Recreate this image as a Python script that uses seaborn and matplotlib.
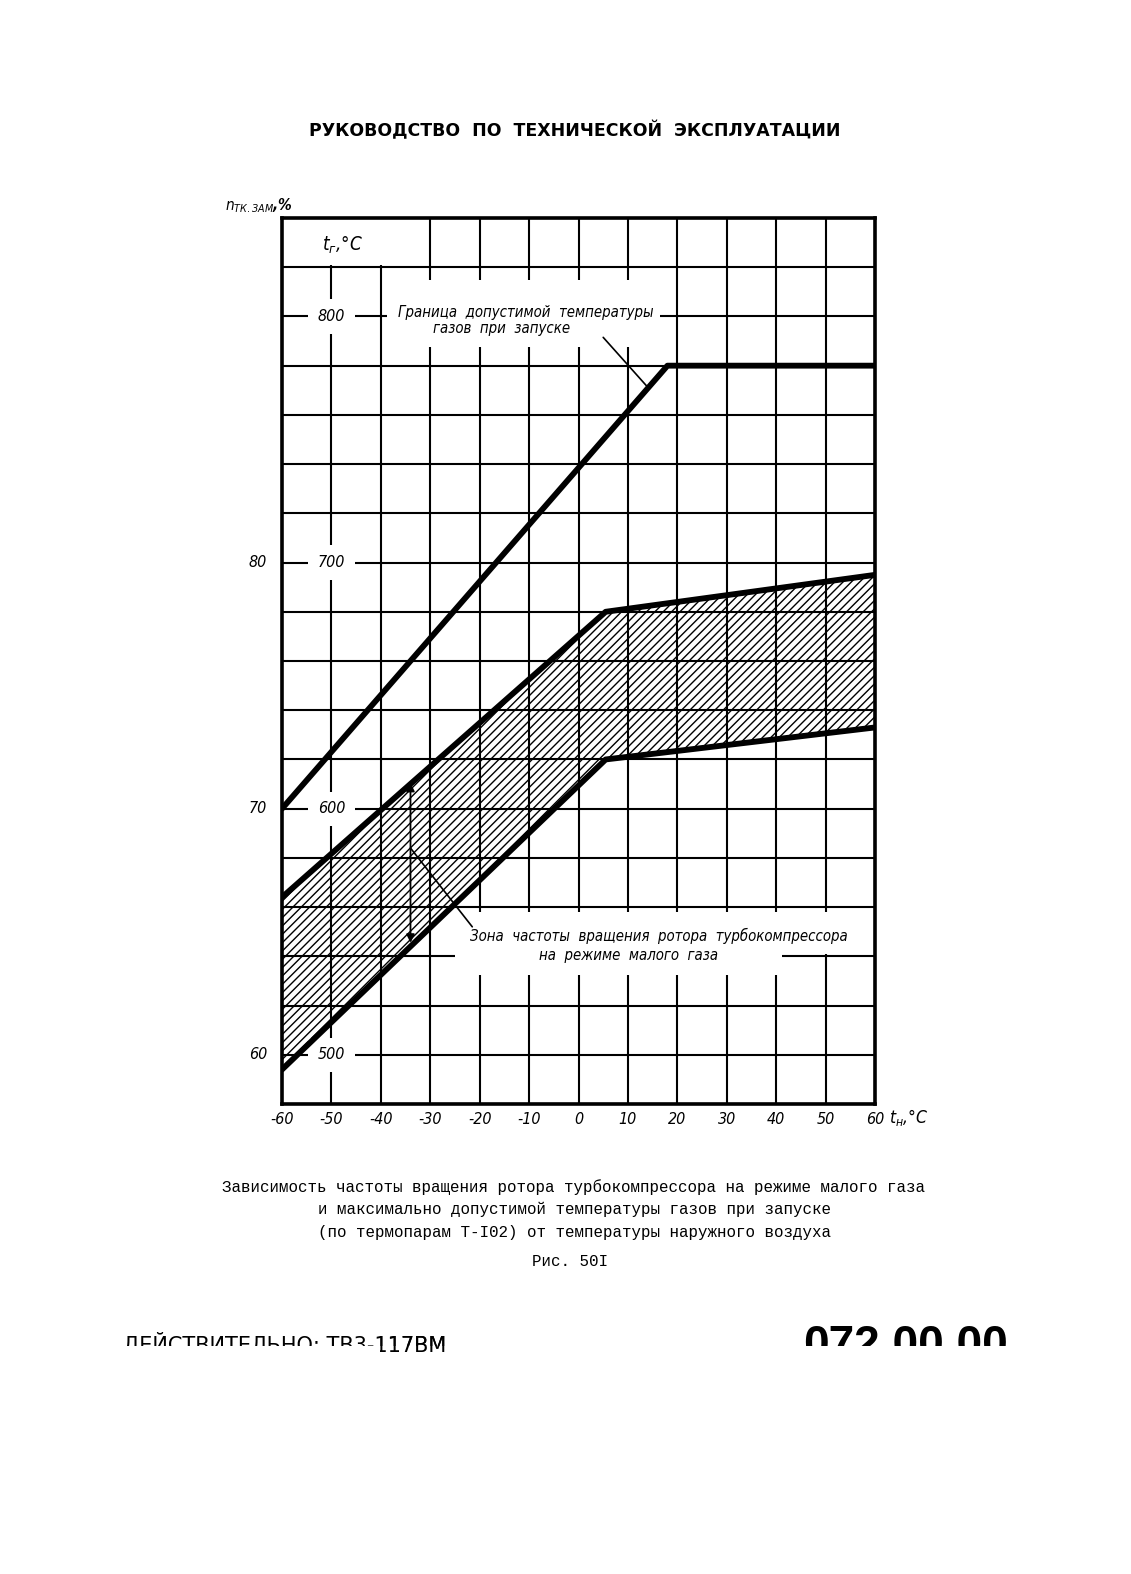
import matplotlib
matplotlib.use("Agg")
import matplotlib.pyplot as plt
from matplotlib.patches import Rectangle
import seaborn as sns
import pandas as pd

# outside air temperature t_н, °C (x axis)
t_ticks = list(range(-60, 61, 10))
# gas temperature axis t_г, °C (grid every 20)
temp_grid = list(range(480, 841, 20))
temp_labels = [500, 600, 700, 800]
# rotor speed n_тк.зам, % (same scale: 60% at 500 °C, 10% per 100 °C)
n_labels = [60, 70, 80]

# limit of allowable gas temperature at start
t_limit = [-60, 18, 60]
temp_limit = [600, 780, 780]

# idle-speed zone of the turbocompressor rotor
t_zone = [-60, 5.5, 60]
zone_upper = [564, 680, 695]
zone_lower = [494, 620, 633]

W, H = 1131, 1574


def fx(px):
    return px / W


def fy(py):
    return 1 - py / H


sns.set_style("white")
plt.rcParams["font.family"] = ["DejaVu Sans"]
plt.rcParams["font.stretch"] = "condensed"
plt.rcParams["text.color"] = "black"
plt.rcParams["xtick.color"] = "black"
plt.rcParams["xtick.labelcolor"] = "black"
plt.rcParams["axes.unicode_minus"] = False
plt.rcParams["hatch.linewidth"] = 1.0
plt.rcParams["hatch.color"] = "black"

fig = plt.figure(figsize=(W / 100, H / 100), dpi=100)
ax = fig.add_axes([fx(282), fy(1104), (875 - 282) / W, (1104 - 218) / H])

ax.set_xlim(-60, 60)
ax.set_ylim(480, 840)
ax.set_xticks(t_ticks)
ax.set_xticklabels([str(v) for v in t_ticks], fontsize=11.5, fontstyle="italic")
ax.set_yticks(temp_grid)
ax.set_yticklabels([])
ax.tick_params(length=0, pad=6)
ax.grid(True, color="black", lw=1.5)
ax.set_axisbelow(True)
for sp in ax.spines.values():
    sp.set_color("black")
    sp.set_linewidth(2.6)

# white areas where the drawing leaves the grid open for text
masks = [
    (-60, 821, 28, 19),          # t_г label cell
    (-38.8, 787.6, 55.3, 27.2),  # upper note
    (-25, 541, 79, 17.2),        # lower note, first line
    (-25, 532.5, 66.2, 25.5),    # lower note, second line
]
for x0, y0, w, h in masks:
    ax.add_patch(Rectangle((x0, y0), w, h, facecolor="white", edgecolor="none", zorder=1.2))

# hatched zone
ax.fill_between(t_zone, zone_lower, zone_upper, facecolor="none", edgecolor="black",
                hatch="////", linewidth=0, zorder=1.5)

curves = pd.DataFrame({
    "t": t_limit + t_zone + t_zone,
    "temp": temp_limit + zone_upper + zone_lower,
    "curve": ["limit"] * 3 + ["upper"] * 3 + ["lower"] * 3,
})
sns.lineplot(data=curves, x="t", y="temp", units="curve", estimator=None, sort=False,
             color="black", lw=4.2, ax=ax, zorder=3, legend=False)
ax.set_xlabel("")
ax.set_ylabel("")

lab = dict(fontsize=11.5, fontstyle="italic", color="black")
for v in temp_labels:
    ax.text(-50, v, str(v), ha="center", va="center", zorder=2,
            bbox=dict(boxstyle="square,pad=0.6", fc="white", ec="none"), **lab)
for n in n_labels:
    ax.text(-63, 500 + (n - 60) * 10, str(n), ha="right", va="center", clip_on=False, **lab)

ax.text(-47.8, 829, r"$t_{г}$,°C", ha="center", va="center", fontsize=13.5, fontstyle="italic")
ax.text(62.8, 474.5, r"$t_{н}$,°C", ha="left", va="center", clip_on=False, fontsize=12.5,
        fontstyle="italic")
fig.text(fx(225), fy(206), r"$n_{ТК.ЗАМ}$,%", ha="left", va="center", fontsize=11,
         fontstyle="italic", weight="bold")

# notes with leaders
note = dict(fontsize=10.7, fontstyle="italic", ha="center", va="center", zorder=4)
ax.text(-10.7, 801.4, "Граница  допустимой  температуры", **note)
ax.text(-15.5, 795.0, "газов  при  запуске", **note)
ax.annotate("", xy=(13.9, 771.5), xytext=(5.0, 791.5),
            arrowprops=dict(arrowstyle="-", lw=1.2, color="black", shrinkA=0, shrinkB=0))

ax.text(16.3, 548.4, "Зона  частоты  вращения  ротора  турбокомпрессора", **note)
ax.text(10.2, 540.2, "на  режиме  малого  газа", **note)
ax.annotate("", xy=(-34, 610.5), xytext=(-34, 545.5),
            arrowprops=dict(arrowstyle="<|-|>", lw=1.3, color="black", mutation_scale=12,
                            shrinkA=0, shrinkB=0), zorder=4)
ax.annotate("", xy=(-34, 584), xytext=(-21.5, 552),
            arrowprops=dict(arrowstyle="-", lw=1.2, color="black", shrinkA=0, shrinkB=0))

# page texts
fig.text(fx(575), fy(131), "РУКОВОДСТВО  ПО  ТЕХНИЧЕСКОЙ  ЭКСПЛУАТАЦИИ", ha="center",
         va="center", family="DejaVu Sans", stretch="normal", weight="bold", fontsize=12.5)

caption = [
    "Зависимость частоты вращения ротора турбокомпрессора на режиме малого газа",
    "и максимально допустимой температуры газов при запуске",
    "(по термопарам Т-I02) от температуры наружного воздуха",
]
for i, line in enumerate(caption):
    fig.text(fx(574), fy(1187 + 22.5 * i), line, ha="center", va="center",
             family="Liberation Mono", fontsize=11.4)
fig.text(fx(570), fy(1262), "Рис. 50I", ha="center", va="center",
         family="Liberation Mono", fontsize=11.4)

# footer, lower part of the letters lost in the scan
cut = Rectangle((0, fy(1346)), 1, 1 - fy(1346), transform=fig.transFigure)
keep = Rectangle((fx(380), 0), 1, 1, transform=fig.transFigure)
foot = "ДЕЙСТВИТЕЛЬНО: ТВ3-117ВМ"
foot_style = dict(ha="left", va="baseline", family="DejaVu Sans", stretch="normal", fontsize=15)
t1 = fig.text(fx(123), fy(1352), foot, **foot_style)
t1.set_clip_path(cut)
t2 = fig.text(fx(123), fy(1352), foot, **foot_style)
t2.set_clip_path(keep)
t3 = fig.text(fx(1008), fy(1358), "072.00.00", ha="right", va="baseline",
              family="Liberation Sans", weight="bold", fontsize=33)
t3.set_clip_path(cut)

fig.savefig("out.png", dpi=100, facecolor="white")
